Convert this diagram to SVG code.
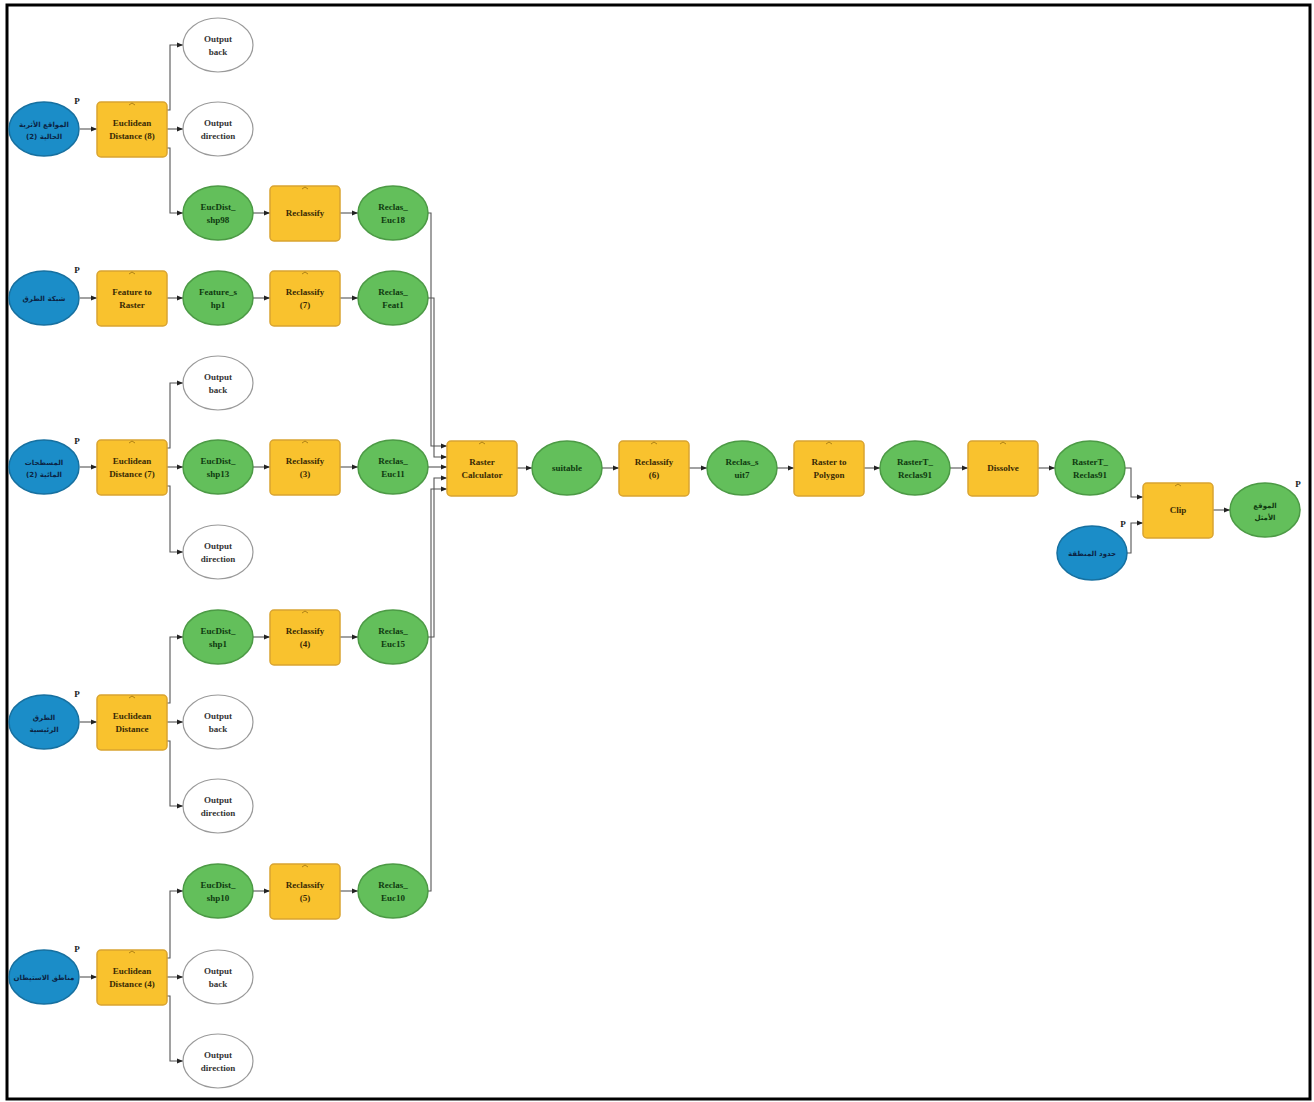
<svg xmlns="http://www.w3.org/2000/svg" width="1314" height="1102" viewBox="0 0 1314 1102">
<style>
.tool use{fill:#F9C22E;stroke:#D9A431;stroke-width:1.5}
.tool text{fill:#3a2a05}
.tool path{fill:none;stroke:#9a7010;stroke-width:0.8}
.data use{fill:#63BF5B;stroke:#4C9A45;stroke-width:1.5}
.data text{fill:#0f3a10}
.input use{fill:#1B8DC8;stroke:#1670A0;stroke-width:1.5}
.input text{fill:#0b2444;font-family:"DejaVu Sans","Noto Sans",sans-serif;font-size:7px}
.out use{fill:#fff;stroke:#9a9a9a;stroke-width:1.2}
.out text{fill:#333}
text{font-family:"Liberation Serif",serif;font-weight:bold;font-size:9px;text-anchor:middle}
.p{fill:#222;font-size:9px}
#connectors path{fill:none;stroke:#555;stroke-width:1.1;marker-end:url(#ah)}
</style>
<defs>
<marker id="ah" viewBox="0 0 10 10" refX="10" refY="5" markerWidth="7" markerHeight="6" markerUnits="userSpaceOnUse" orient="auto"><path d="M0,1 L10,5 L0,9 z" fill="#222"/></marker>
<rect id="tr" x="-35" y="-27" width="70" height="55" rx="4"/>
<ellipse id="el" rx="35" ry="27"/>
</defs>
<rect x="7" y="5" width="1303" height="1094" fill="#fff" stroke="#000" stroke-width="3"/>

<g id="connectors">
<path d="M80,129 H97"/>
<path d="M167,110 H170 V45 H183"/>
<path d="M167,129 H183"/>
<path d="M167,148 H170 V213 H183"/>
<path d="M253,213 H270"/>
<path d="M340,213 H358"/>
<path d="M80,298 H97"/>
<path d="M167,298 H183"/>
<path d="M253,298 H270"/>
<path d="M340,298 H358"/>
<path d="M80,467 H97"/>
<path d="M167,448 H170 V383 H183"/>
<path d="M167,467 H183"/>
<path d="M167,486 H170 V552 H183"/>
<path d="M253,467 H270"/>
<path d="M340,467 H358"/>
<path d="M80,722 H97"/>
<path d="M167,703 H170 V637 H183"/>
<path d="M167,722 H183"/>
<path d="M167,741 H170 V806 H183"/>
<path d="M253,637 H270"/>
<path d="M340,637 H358"/>
<path d="M80,977 H97"/>
<path d="M167,958 H170 V891 H183"/>
<path d="M167,977 H183"/>
<path d="M167,996 H170 V1061 H183"/>
<path d="M253,891 H270"/>
<path d="M340,891 H358"/>
<path d="M428,213 H431 V446 H447"/>
<path d="M428,298 H434 V457 H447"/>
<path d="M428,467 H447"/>
<path d="M428,637 H434 V478 H447"/>
<path d="M428,891 H431 V489 H447"/>
<path d="M517,468 H532"/>
<path d="M602,468 H619"/>
<path d="M689,468 H707"/>
<path d="M777,468 H794"/>
<path d="M864,468 H880"/>
<path d="M950,468 H968"/>
<path d="M1038,468 H1055"/>
<path d="M1125,468 H1131 V497 H1143"/>
<path d="M1127,553 H1131 V523 H1143"/>
<path d="M1213,510 H1230"/>
</g>

<!-- Row 1 -->
<g id="in1" class="input" transform="translate(44,129)"><use href="#el"/><text y="-2">المواقع الأثرية</text><text y="10">الحالية (2)</text></g>
<g id="ed8" class="tool" transform="translate(132,129)"><use href="#tr"/><path d="M-3,-24 l3,-2 l3,2"/><text y="-3">Euclidean</text><text y="10">Distance (8)</text></g>
<g id="ob1" class="out" transform="translate(218,45)"><use href="#el"/><text y="-3">Output</text><text y="10">back</text></g>
<g id="od1" class="out" transform="translate(218,129)"><use href="#el"/><text y="-3">Output</text><text y="10">direction</text></g>
<g id="shp98" class="data" transform="translate(218,213)"><use href="#el"/><text y="-3">EucDist_</text><text y="10">shp98</text></g>
<g id="rc1" class="tool" transform="translate(305,213)"><use href="#tr"/><path d="M-3,-24 l3,-2 l3,2"/><text y="3">Reclassify</text></g>
<g id="re18" class="data" transform="translate(393,213)"><use href="#el"/><text y="-3">Reclas_</text><text y="10">Euc18</text></g>

<!-- Row 2 -->
<g id="in2" class="input" transform="translate(44,298)"><use href="#el"/><text y="3">شبكة الطرق</text></g>
<g id="f2r" class="tool" transform="translate(132,298)"><use href="#tr"/><path d="M-3,-24 l3,-2 l3,2"/><text y="-3">Feature to</text><text y="10">Raster</text></g>
<g id="feat" class="data" transform="translate(218,298)"><use href="#el"/><text y="-3">Feature_s</text><text y="10">hp1</text></g>
<g id="rc7" class="tool" transform="translate(305,298)"><use href="#tr"/><path d="M-3,-24 l3,-2 l3,2"/><text y="-3">Reclassify</text><text y="10">(7)</text></g>
<g id="refeat" class="data" transform="translate(393,298)"><use href="#el"/><text y="-3">Reclas_</text><text y="10">Feat1</text></g>

<!-- Row 3 -->
<g id="in3" class="input" transform="translate(44,467)"><use href="#el"/><text y="-2">المسطحات</text><text y="10">المائية (2)</text></g>
<g id="ed7" class="tool" transform="translate(132,467)"><use href="#tr"/><path d="M-3,-24 l3,-2 l3,2"/><text y="-3">Euclidean</text><text y="10">Distance (7)</text></g>
<g id="ob3" class="out" transform="translate(218,383)"><use href="#el"/><text y="-3">Output</text><text y="10">back</text></g>
<g id="shp13" class="data" transform="translate(218,467)"><use href="#el"/><text y="-3">EucDist_</text><text y="10">shp13</text></g>
<g id="od3" class="out" transform="translate(218,552)"><use href="#el"/><text y="-3">Output</text><text y="10">direction</text></g>
<g id="rc3" class="tool" transform="translate(305,467)"><use href="#tr"/><path d="M-3,-24 l3,-2 l3,2"/><text y="-3">Reclassify</text><text y="10">(3)</text></g>
<g id="re11" class="data" transform="translate(393,467)"><use href="#el"/><text y="-3">Reclas_</text><text y="10">Euc11</text></g>

<!-- Row 4 -->
<g id="in4" class="input" transform="translate(44,722)"><use href="#el"/><text y="-2">الطرق</text><text y="10">الرئيسية</text></g>
<g id="ed" class="tool" transform="translate(132,722)"><use href="#tr"/><path d="M-3,-24 l3,-2 l3,2"/><text y="-3">Euclidean</text><text y="10">Distance</text></g>
<g id="shp1" class="data" transform="translate(218,637)"><use href="#el"/><text y="-3">EucDist_</text><text y="10">shp1</text></g>
<g id="ob4" class="out" transform="translate(218,722)"><use href="#el"/><text y="-3">Output</text><text y="10">back</text></g>
<g id="od4" class="out" transform="translate(218,806)"><use href="#el"/><text y="-3">Output</text><text y="10">direction</text></g>
<g id="rc4" class="tool" transform="translate(305,637)"><use href="#tr"/><path d="M-3,-24 l3,-2 l3,2"/><text y="-3">Reclassify</text><text y="10">(4)</text></g>
<g id="re15" class="data" transform="translate(393,637)"><use href="#el"/><text y="-3">Reclas_</text><text y="10">Euc15</text></g>

<!-- Row 5 -->
<g id="in5" class="input" transform="translate(44,977)"><use href="#el"/><text y="3">مناطق الاستيطان</text></g>
<g id="ed4" class="tool" transform="translate(132,977)"><use href="#tr"/><path d="M-3,-24 l3,-2 l3,2"/><text y="-3">Euclidean</text><text y="10">Distance (4)</text></g>
<g id="shp10" class="data" transform="translate(218,891)"><use href="#el"/><text y="-3">EucDist_</text><text y="10">shp10</text></g>
<g id="ob5" class="out" transform="translate(218,977)"><use href="#el"/><text y="-3">Output</text><text y="10">back</text></g>
<g id="od5" class="out" transform="translate(218,1061)"><use href="#el"/><text y="-3">Output</text><text y="10">direction</text></g>
<g id="rc5" class="tool" transform="translate(305,891)"><use href="#tr"/><path d="M-3,-24 l3,-2 l3,2"/><text y="-3">Reclassify</text><text y="10">(5)</text></g>
<g id="re10" class="data" transform="translate(393,891)"><use href="#el"/><text y="-3">Reclas_</text><text y="10">Euc10</text></g>

<!-- Main chain -->
<g id="calc" class="tool" transform="translate(482,468)"><use href="#tr"/><path d="M-3,-24 l3,-2 l3,2"/><text y="-3">Raster</text><text y="10">Calculator</text></g>
<g id="suit" class="data" transform="translate(567,468)"><use href="#el"/><text y="3">suitable</text></g>
<g id="rc6" class="tool" transform="translate(654,468)"><use href="#tr"/><path d="M-3,-24 l3,-2 l3,2"/><text y="-3">Reclassify</text><text y="10">(6)</text></g>
<g id="recs" class="data" transform="translate(742,468)"><use href="#el"/><text y="-3">Reclas_s</text><text y="10">uit7</text></g>
<g id="r2p" class="tool" transform="translate(829,468)"><use href="#tr"/><path d="M-3,-24 l3,-2 l3,2"/><text y="-3">Raster to</text><text y="10">Polygon</text></g>
<g id="rt1" class="data" transform="translate(915,468)"><use href="#el"/><text y="-3">RasterT_</text><text y="10">Reclas91</text></g>
<g id="diss" class="tool" transform="translate(1003,468)"><use href="#tr"/><path d="M-3,-24 l3,-2 l3,2"/><text y="3">Dissolve</text></g>
<g id="rt2" class="data" transform="translate(1090,468)"><use href="#el"/><text y="-3">RasterT_</text><text y="10">Reclas91</text></g>
<g id="clip" class="tool" transform="translate(1178,510)"><use href="#tr"/><path d="M-3,-24 l3,-2 l3,2"/><text y="3">Clip</text></g>
<g id="bnd" class="input" transform="translate(1092,553)"><use href="#el"/><text y="3">حدود المنطقة</text></g>
<g id="final" class="data" transform="translate(1265,510)"><use href="#el"/><text y="-2" style="font-family:'DejaVu Sans',sans-serif;font-size:7px">الموقع</text><text y="10" style="font-family:'DejaVu Sans',sans-serif;font-size:7px">الأمثل</text></g>

<g id="plabels">
<text class="p" x="77" y="104">P</text>
<text class="p" x="77" y="273">P</text>
<text class="p" x="77" y="444">P</text>
<text class="p" x="77" y="697">P</text>
<text class="p" x="77" y="952">P</text>
<text class="p" x="1123" y="527">P</text>
<text class="p" x="1298" y="487">P</text>
</g>
</svg>
